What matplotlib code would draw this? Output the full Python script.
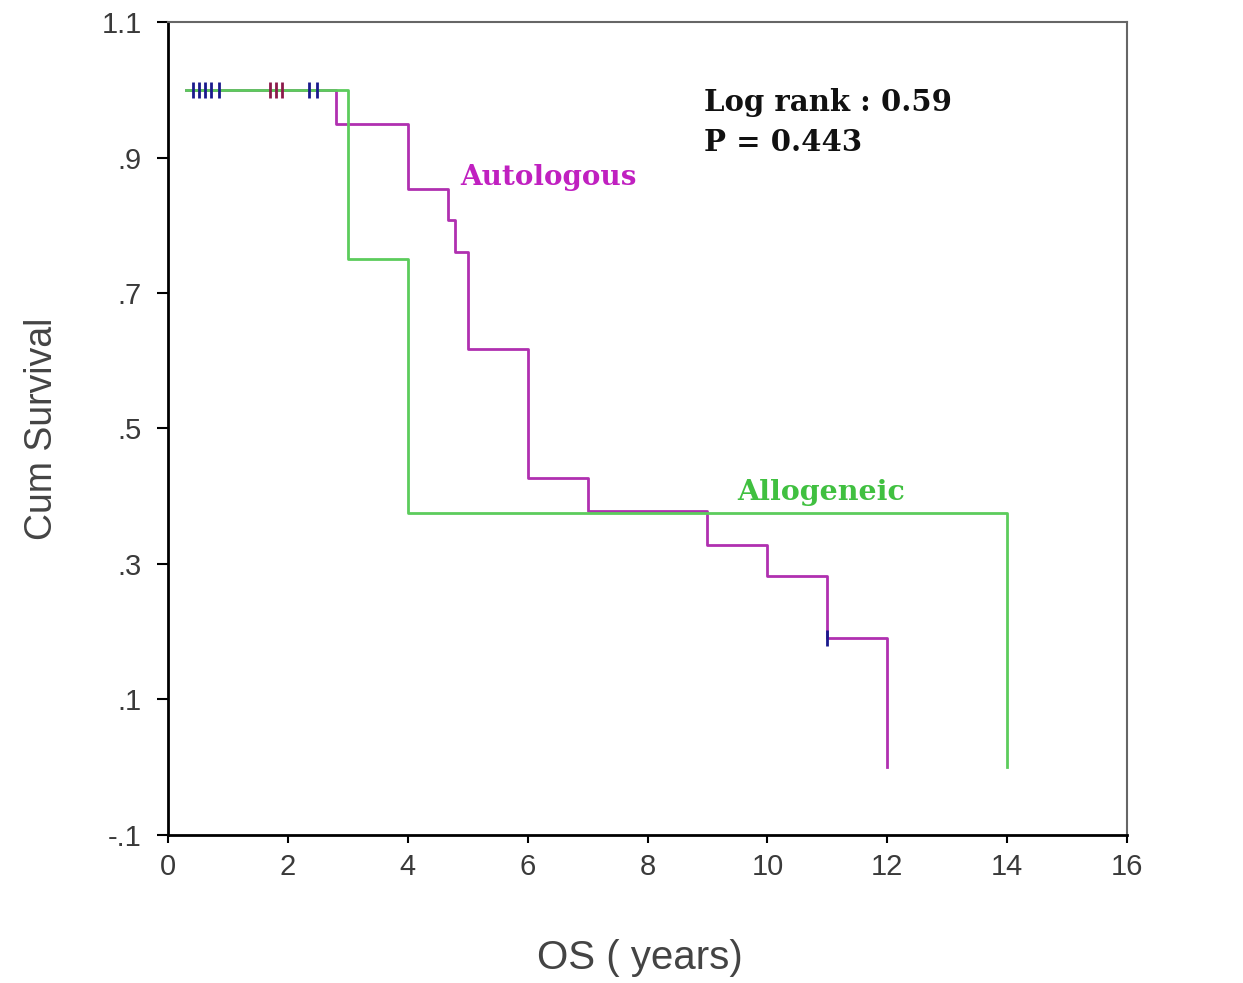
import matplotlib.pyplot as plt

# survival step data
auto_t = [0.3, 2.8, 4.0, 4.67, 4.79, 5.0, 6.0, 7.0, 9.0, 10.0, 11.0, 12.0]
auto_s = [1.0, 0.949, 0.853, 0.808, 0.76, 0.617, 0.427, 0.378, 0.328, 0.282, 0.191, 0.0]
allo_t = [0.3, 3.0, 4.0, 14.0]
allo_s = [1.0, 0.75, 0.375, 0.0]

# censored observations
cens_blue_t = [0.42, 0.52, 0.62, 0.72, 0.85, 2.35, 2.48, 11.0]
cens_blue_s = [1.0, 1.0, 1.0, 1.0, 1.0, 1.0, 1.0, 0.191]
cens_red_t = [1.7, 1.8, 1.9]
cens_red_s = [1.0, 1.0, 1.0]

yticks = [1.1, 0.9, 0.7, 0.5, 0.3, 0.1, -0.1]
ylabels = ["1.1", ".9", ".7", ".5", ".3", ".1", "-.1"]
xticks = [0, 2, 4, 6, 8, 10, 12, 14, 16]

fig = plt.figure(figsize=(12.43, 9.83), dpi=100)
ax = fig.add_axes([0.1352, 0.1506, 0.7715, 0.827])

ax.step(auto_t, auto_s, where="post", color="#b030b0", lw=2)
ax.step(allo_t, allo_s, where="post", color="#5ccc5c", lw=2)
ax.plot(cens_blue_t, cens_blue_s, ls="none", marker="|", ms=12, mew=2, color="#1a1a8c")
ax.plot(cens_red_t, cens_red_s, ls="none", marker="|", ms=12, mew=2, color="#8c1a4a")

ax.set_xlim(0, 16)
ax.set_ylim(-0.1, 1.1)
ax.set_xticks(xticks)
ax.set_xticklabels([str(x) for x in xticks])
ax.set_yticks(yticks)
ax.set_yticklabels(ylabels)
ax.tick_params(direction="out", width=1.5, labelsize=21, labelcolor="#3a3a3a")
ax.tick_params(axis="x", length=6, pad=7)
ax.tick_params(axis="y", length=8, pad=11)

for side in ["left", "bottom"]:
    ax.spines[side].set_linewidth(2)
    ax.spines[side].set_color("black")
for side in ["top", "right"]:
    ax.spines[side].set_linewidth(1.5)
    ax.spines[side].set_color("#666666")

for lab in ax.get_xticklabels() + ax.get_yticklabels():
    lab.set_family("Liberation Sans")

ax.set_ylabel("Cum Survival", fontsize=27, color="#444444", family="Liberation Sans")
ax.yaxis.set_label_coords(-0.113, 0.5)
ax.set_xlabel("OS ( years)", fontsize=29, color="#444444", family="Liberation Sans")
ax.xaxis.set_label_coords(0.492, -0.128)

ax.text(8.95, 0.981, "Log rank : 0.59", fontsize=21, fontweight="bold",
        family="DejaVu Serif", color="#111111", va="center")
ax.text(8.95, 0.922, "P = 0.443", fontsize=21, fontweight="bold",
        family="DejaVu Serif", color="#111111", va="center")
ax.text(4.88, 0.871, "Autologous", fontsize=20, fontweight="bold",
        family="DejaVu Serif", color="#c020c0", va="center")
ax.text(9.5, 0.406, "Allogeneic", fontsize=20.5, fontweight="bold",
        family="DejaVu Serif", color="#40c040", va="center")

fig.savefig("out.png", dpi=100)
